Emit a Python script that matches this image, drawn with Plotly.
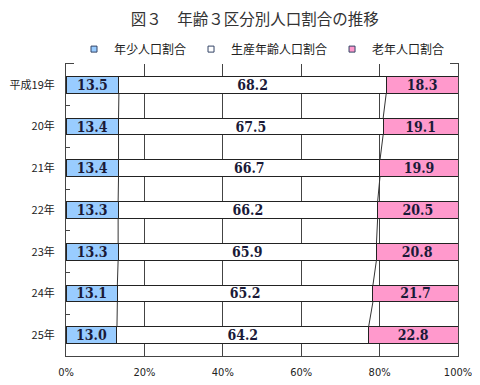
import plotly.graph_objects as go

years = ["平成19年", "20年", "21年", "22年", "23年", "24年", "25年"]
young = [13.5, 13.4, 13.4, 13.3, 13.3, 13.1, 13.0]
working = [68.2, 67.5, 66.7, 66.2, 65.9, 65.2, 64.2]
old = [18.3, 19.1, 19.9, 20.5, 20.8, 21.7, 22.8]
series_names = ["年少人口割合", "生産年齢人口割合", "老年人口割合"]
colors = ["#99CCFF", "#FFFFFF", "#FF99CC"]
x_ticks = [0, 20, 40, 60, 80, 100]

pos = list(range(len(years)))
bw = 0.4
fig = go.Figure()
txtfont = dict(family="DejaVu Serif Condensed", size=14, color="#1a1a38", weight="bold")
for name, vals, col in zip(series_names, [young, working, old], colors):
    fig.add_trace(go.Bar(
        y=pos, x=vals, orientation="h", name=name, width=bw, showlegend=False,
        marker=dict(color=col, line=dict(color="#222222", width=1)),
        text=[f"{v:.1f}" for v in vals], textposition="inside",
        insidetextanchor="middle", textfont=txtfont, textangle=0,
        constraintext="none",
    ))
    # legend entry with small square swatch
    fig.add_trace(go.Scatter(
        x=[None], y=[None], mode="markers", name=name,
        marker=dict(symbol="square", size=6, color=col,
                    line=dict(color="#334466", width=1)),
    ))

# series lines connecting the stacked segment boundaries
cum1 = young
cum2 = [a + b for a, b in zip(young, working)]
for cum in (cum1, cum2):
    xs, ys = [], []
    for i in range(len(years) - 1):
        xs += [cum[i], cum[i + 1], None]
        ys += [pos[i] + bw / 2, pos[i + 1] - bw / 2, None]
    fig.add_trace(go.Scatter(x=xs, y=ys, mode="lines",
                             line=dict(color="#333333", width=1),
                             showlegend=False, hoverinfo="skip"))

fig.update_layout(
    width=472, height=377,
    barmode="stack",
    paper_bgcolor="white", plot_bgcolor="white",
    margin=dict(l=58, r=22, t=56, b=29),
    title=dict(text="図３　年齢３区分別人口割合の推移", x=0.523, xanchor="center",
               y=0.985, yanchor="top", pad=dict(t=0, b=0),
               font=dict(family="Noto Sans CJK JP", size=15.5, color="#333333")),
    legend=dict(orientation="h", x=0.5, xanchor="center", y=1.051, yanchor="middle",
                font=dict(family="Noto Sans CJK JP", size=12, color="#222222"),
                itemwidth=30, traceorder="normal", itemclick=False,
                tracegroupgap=0),
    font=dict(family="Noto Sans CJK JP", color="#222222"),
    xaxis=dict(range=[0, 100], tickvals=x_ticks, ticktext=[f"{t}%" for t in x_ticks],
               showgrid=True, gridcolor="#444444", gridwidth=1, automargin=False,
               showline=True, linecolor="#444444", mirror=True, zeroline=False,
               ticks="", ticklabelstandoff=6,
               tickfont=dict(family="DejaVu Sans Condensed", size=11, color="#222222")),
    yaxis=dict(range=[len(years) - 0.5, -0.5], tickvals=pos, ticktext=years,
               showgrid=False, showline=True, linecolor="#444444", mirror=True,
               zeroline=False, ticks="", automargin=False, ticklabelstandoff=8,
               tickfont=dict(family="Noto Sans CJK JP", size=11, color="#222222"),
               minor=dict(tickvals=[p + 0.5 for p in pos[:-1]], ticks="inside",
                          ticklen=4, tickcolor="#444444", showgrid=False)),
)
fig.write_html("out.html")
